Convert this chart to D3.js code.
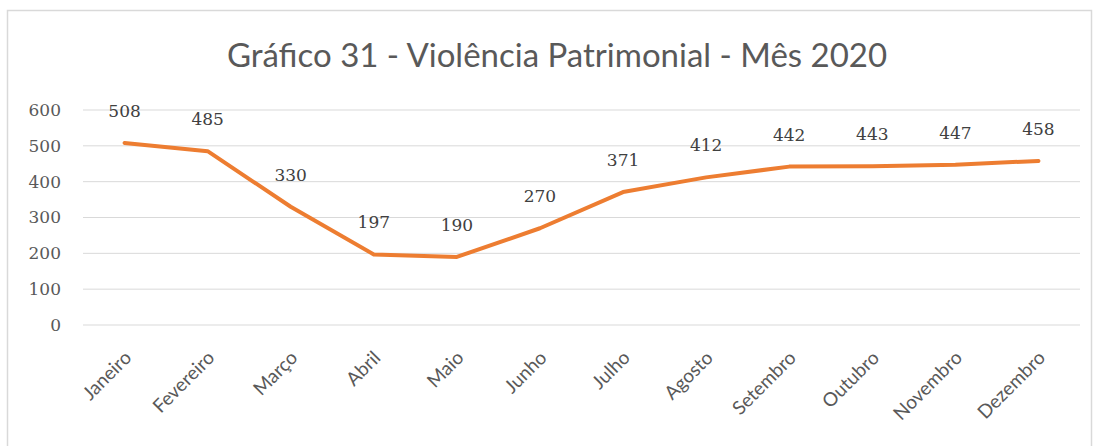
<!DOCTYPE html>
<html>
<head>
<meta charset="utf-8">
<script src="https://cdnjs.cloudflare.com/ajax/libs/d3/7.8.5/d3.min.js"></script>
<style>
  body { margin: 0; background: #fff; }
</style>
</head>
<body>
<div class="canvas"></div>
<script>
const months = ['Janeiro', 'Fevereiro', 'Março', 'Abril', 'Maio', 'Junho',
  'Julho', 'Agosto', 'Setembro', 'Outubro', 'Novembro', 'Dezembro'];
const values = [508, 485, 330, 197, 190, 270, 371, 412, 442, 443, 447, 458];
const yTicks = [0, 100, 200, 300, 400, 500, 600];
const title = 'Gráfico 31 - Violência Patrimonial - Mês 2020';

const width = 1096, height = 446;
const margin = { top: 110, right: 16, bottom: 121, left: 83 };
const graphWidth = width - margin.left - margin.right;
const graphHeight = height - margin.top - margin.bottom;

const svg = d3.select('.canvas')
  .append('svg')
   .attr('width', width)
   .attr('height', height);

// chart frame
svg.append('rect')
  .attr('x', 7.5).attr('y', 10.5)
  .attr('width', 1084).attr('height', 440)
  .attr('fill', 'none')
  .attr('stroke', '#d9d9d9')
  .attr('stroke-width', 1.5);

svg.append('text')
  .attr('x', 557).attr('y', 67)
  .attr('text-anchor', 'middle')
  .attr('fill', '#595959')
  .style('font-family', 'Lato, "Open Sans", sans-serif')
  .style('font-size', '33px')
  .text(title);

const graph = svg.append('g')
  .attr('transform', `translate(${margin.left}, ${margin.top})`);

const y = d3.scaleLinear()
  .domain([0, 600])
  .range([graphHeight, 0]);

const x = d3.scaleBand()
  .domain(months)
  .range([0, graphWidth]);

// gridlines
graph.append('g')
  .selectAll('line')
  .data(yTicks)
  .enter().append('line')
   .attr('x1', 0).attr('x2', graphWidth)
   .attr('y1', d => y(d)).attr('y2', d => y(d))
   .attr('stroke', '#d9d9d9')
   .attr('stroke-width', 1);

// y axis
const yAxis = d3.axisLeft(y).tickValues(yTicks).tickSize(0).tickPadding(22);
const yAxisGroup = graph.append('g').call(yAxis);
yAxisGroup.select('.domain').remove();
yAxisGroup.selectAll('text')
  .attr('fill', '#595959')
  .style('font-family', '"DejaVu Serif", serif')
  .style('font-size', '17px');

// x axis
const xAxis = d3.axisBottom(x).tickSize(0).tickPadding(0);
const xAxisGroup = graph.append('g')
  .attr('transform', `translate(0, ${graphHeight})`)
  .call(xAxis);
xAxisGroup.select('.domain').remove();
xAxisGroup.selectAll('text')
  .attr('fill', '#595959')
  .attr('text-anchor', 'end')
  .attr('dy', 0)
  .attr('transform', 'translate(8, 34) rotate(-45)')
  .style('font-family', 'Lato, "Open Sans", sans-serif')
  .style('font-size', '19px');

// line
const line = d3.line()
  .x((d, i) => x(months[i]) + x.bandwidth() / 2)
  .y(d => y(d));

graph.append('path')
  .datum(values)
  .attr('d', line)
  .attr('fill', 'none')
  .attr('stroke', '#ed7d31')
  .attr('stroke-width', 4)
  .attr('stroke-linejoin', 'round')
  .attr('stroke-linecap', 'round');

// data labels
graph.selectAll('.label')
  .data(values)
  .enter().append('text')
   .attr('class', 'label')
   .attr('x', (d, i) => x(months[i]) + x.bandwidth() / 2)
   .attr('y', d => y(d) - 26)
   .attr('text-anchor', 'middle')
   .attr('fill', '#404040')
   .style('font-family', '"DejaVu Serif", serif')
   .style('font-size', '17px')
   .text(d => d);
</script>
</body>
</html>
